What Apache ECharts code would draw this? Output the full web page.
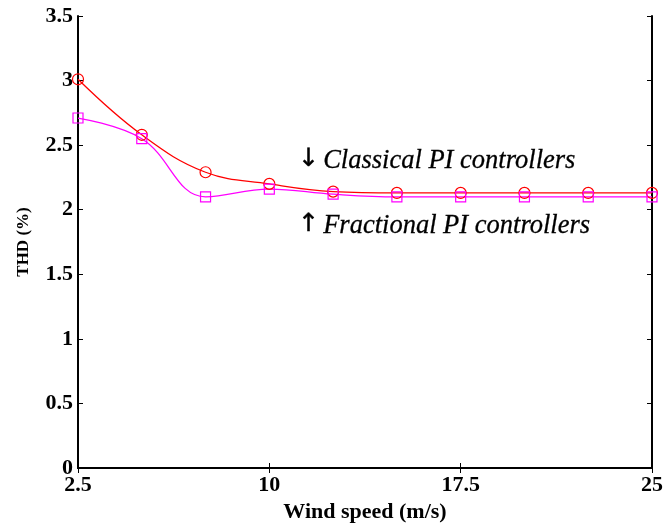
<!DOCTYPE html>
<html>
<head>
<meta charset="utf-8">
<script src="https://cdn.jsdelivr.net/npm/echarts@6/dist/echarts.min.js"></script>
<style>
  html, body { margin: 0; padding: 0; background: #fff; }
  #chart { width: 666px; height: 529px; }
</style>
</head>
<body>
<div id="chart"></div>
<script>
// wind speed (m/s)
var windSpeed = ['2.5', '5', '7.5', '10', '12.5', '15', '17.5', '20', '22.5', '25'];
// THD (%)
var classicalPI = [3.01, 2.58, 2.29, 2.20, 2.14, 2.13, 2.13, 2.13, 2.13, 2.13];
var fractionalPI = [2.71, 2.55, 2.10, 2.16, 2.12, 2.10, 2.10, 2.10, 2.10, 2.10];

var font = 'Liberation Serif';
var myChart = echarts.init(document.getElementById('chart'));

var xBase = {
  type: 'category',
  data: windSpeed,
  boundaryGap: false,
  axisLine: { show: true, lineStyle: { color: '#000', width: 2 } },
  axisTick: { show: true, inside: true, interval: 2, length: 5, lineStyle: { color: '#000' } },
  splitLine: { show: false }
};
var yBase = {
  type: 'value',
  min: 0,
  max: 3.5,
  interval: 0.5,
  axisLine: { show: true, lineStyle: { color: '#000', width: 2 } },
  axisTick: { show: true, inside: true, length: 5, lineStyle: { color: '#000' } },
  splitLine: { show: false }
};

var noteStyle = { fontFamily: font, fontStyle: 'italic', fontSize: 26.5, fill: '#000', stroke: '#000', lineWidth: 0.3 };
var arrowStyle = { fontFamily: 'DejaVu Sans', fontSize: 25, fill: '#000', stroke: '#000', lineWidth: 0.5 };

myChart.setOption({
  animation: false,
  grid: { left: 78, right: 14, top: 16, bottom: 61 },
  xAxis: [
    Object.assign({}, xBase, {
      position: 'bottom',
      name: 'Wind speed (m/s)',
      nameLocation: 'middle',
      nameGap: 32,
      nameTextStyle: { fontFamily: font, fontWeight: 'bold', fontSize: 22, color: '#000' },
      axisLabel: { interval: 2, margin: 6, fontFamily: font, fontWeight: 'bold', fontSize: 22, color: '#000' }
    }),
    Object.assign({}, xBase, { position: 'top', axisLabel: { show: false } })
  ],
  yAxis: [
    Object.assign({}, yBase, {
      position: 'left',
      name: 'THD (%)',
      nameLocation: 'middle',
      nameGap: 46,
      nameTextStyle: { fontFamily: font, fontWeight: 'bold', fontSize: 17, color: '#000' },
      axisLabel: { margin: 5, fontFamily: font, fontWeight: 'bold', fontSize: 22, color: '#000' }
    }),
    Object.assign({}, yBase, { position: 'right', axisLabel: { show: false } })
  ],
  series: [
    {
      name: 'Classical PI controllers',
      type: 'line',
      smooth: 0.4,
      data: classicalPI,
      symbol: 'circle',
      symbolSize: 11,
      lineStyle: { color: '#ff0000', width: 1.3 },
      itemStyle: { color: 'rgba(0,0,0,0)', borderColor: '#ff0000', borderWidth: 1.2 }
    },
    {
      name: 'Fractional PI controllers',
      type: 'line',
      smooth: 0.4,
      data: fractionalPI,
      symbol: 'rect',
      symbolSize: 10,
      lineStyle: { color: '#ff00ff', width: 1.3 },
      itemStyle: { color: 'rgba(0,0,0,0)', borderColor: '#ff00ff', borderWidth: 1.2 }
    }
  ],
  graphic: [
    { type: 'text', left: 298, top: 147, style: Object.assign({ text: '↓' }, arrowStyle) },
    { type: 'text', left: 323, top: 147, style: Object.assign({ text: 'Classical PI controllers' }, noteStyle) },
    { type: 'text', left: 298, top: 212, style: Object.assign({ text: '↑' }, arrowStyle) },
    { type: 'text', left: 323, top: 212, style: Object.assign({ text: 'Fractional PI controllers' }, noteStyle) }
  ]
});
</script>
</body>
</html>
